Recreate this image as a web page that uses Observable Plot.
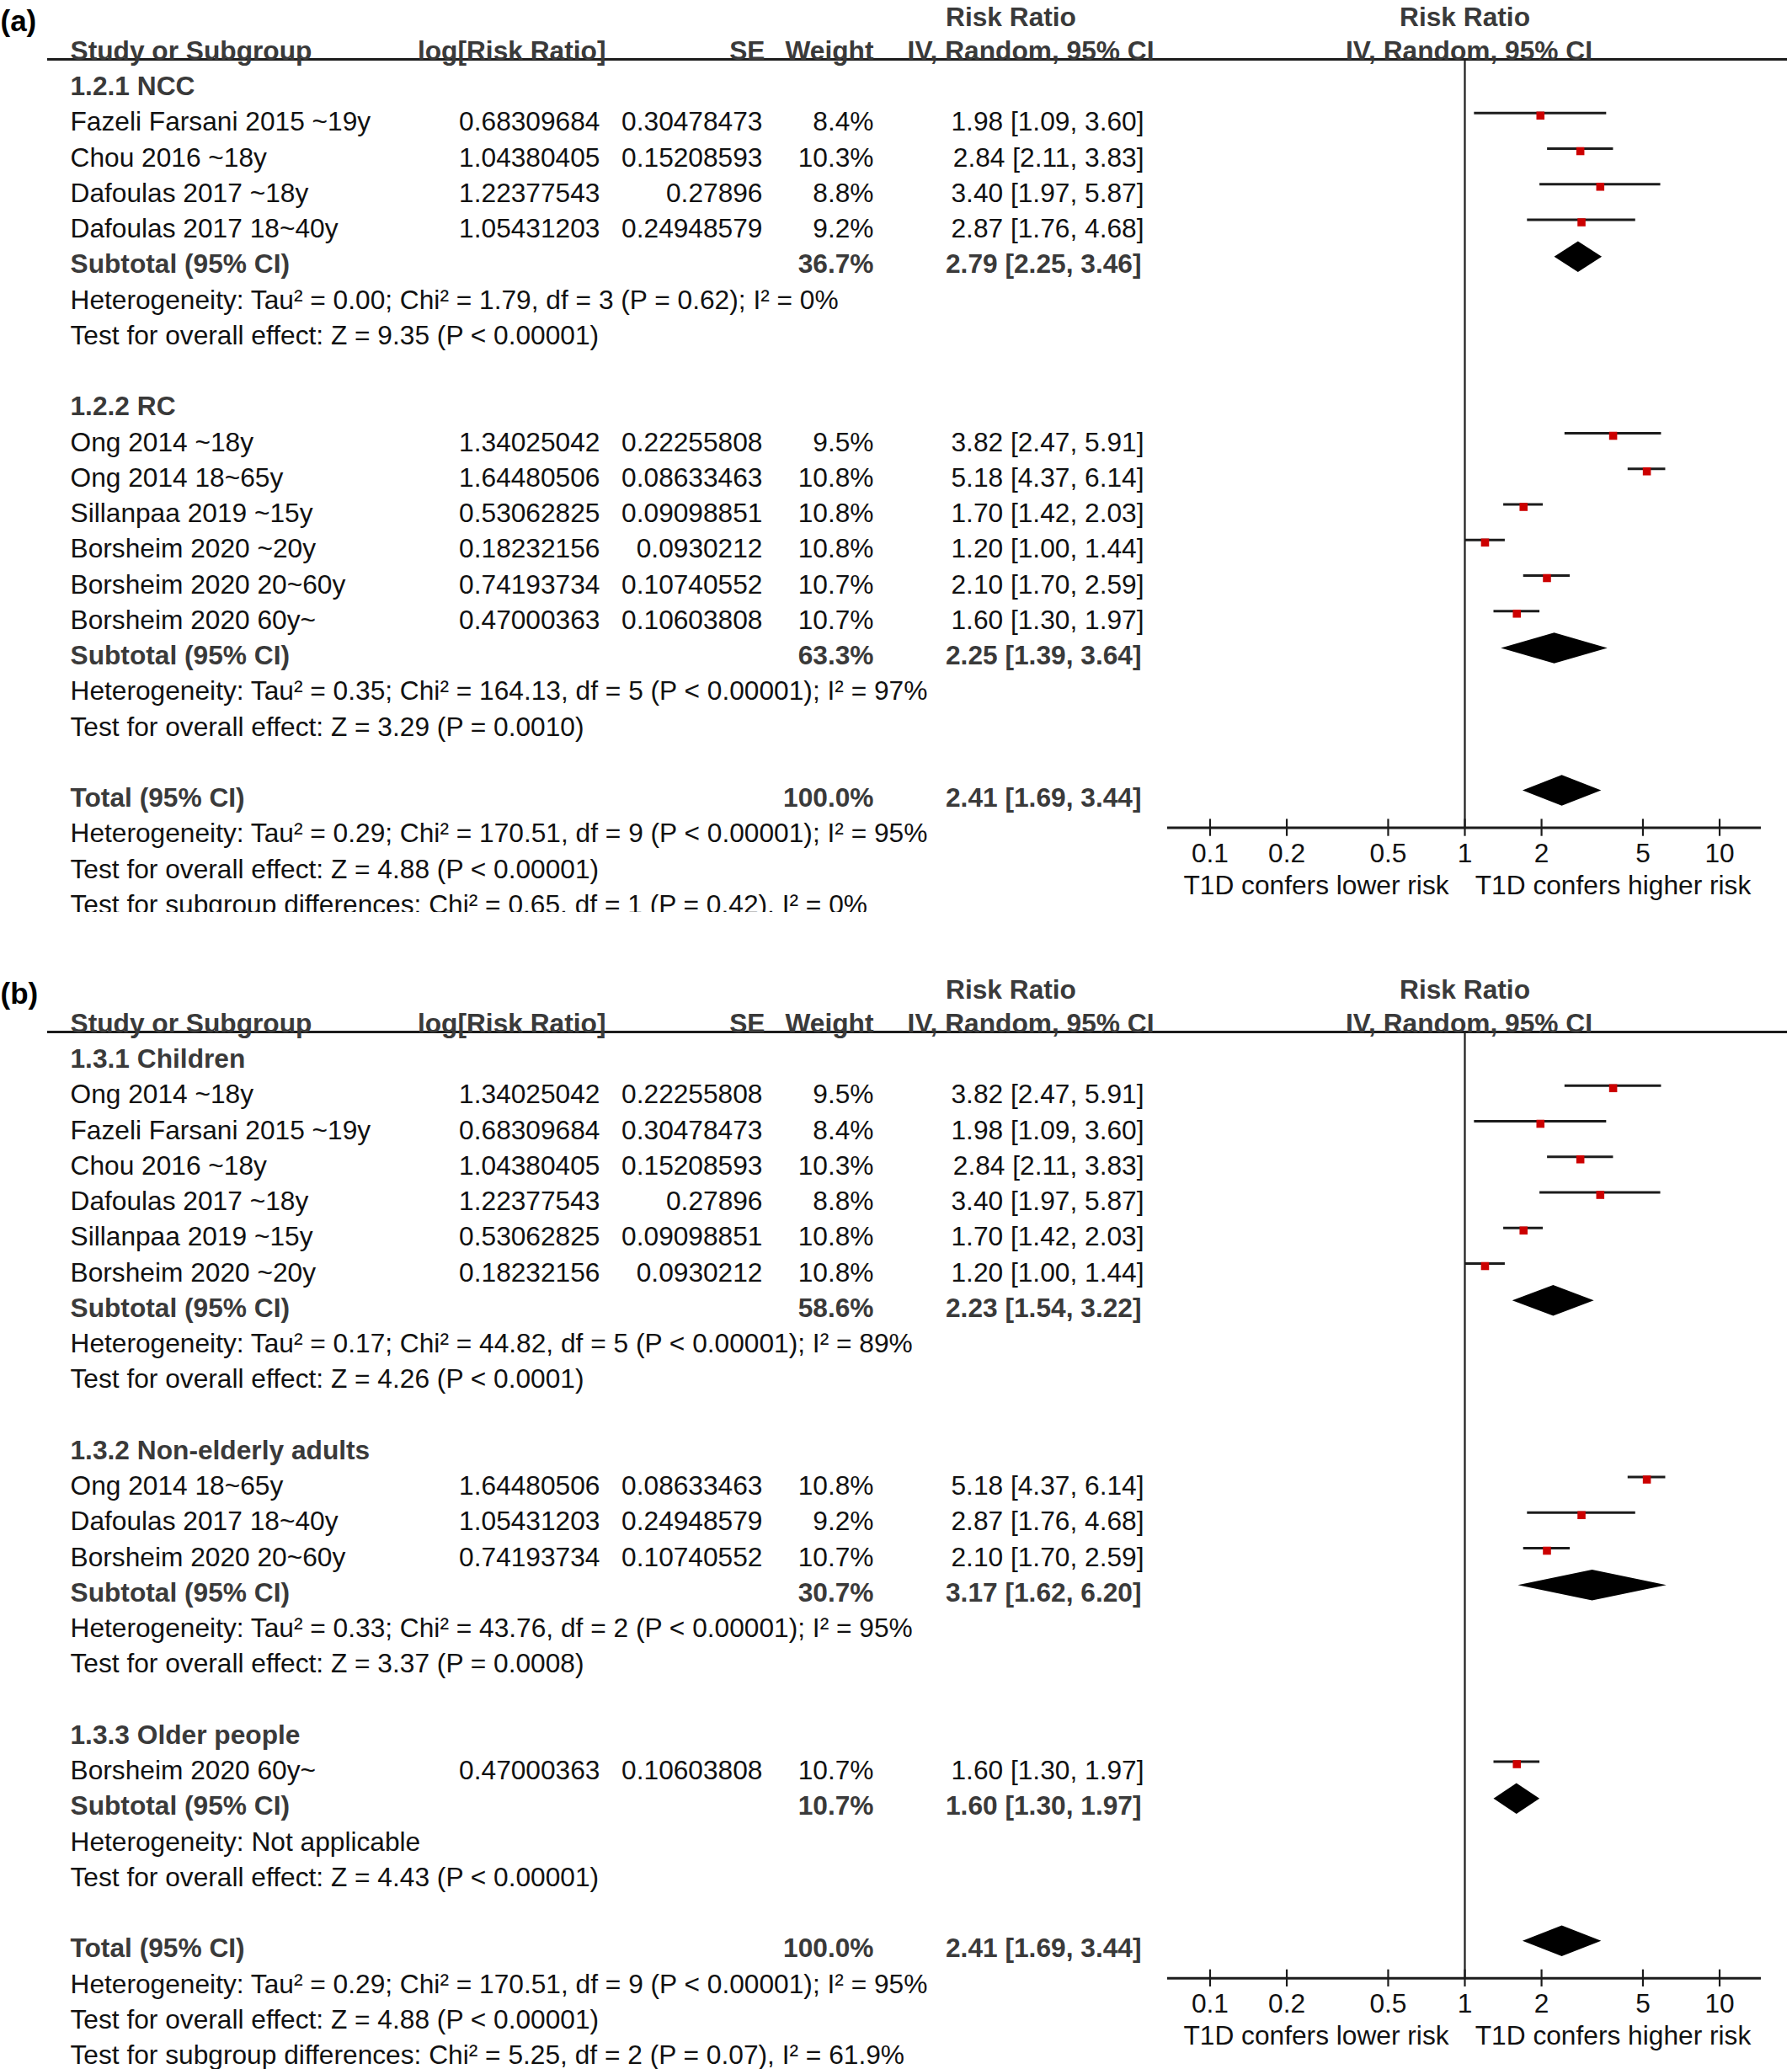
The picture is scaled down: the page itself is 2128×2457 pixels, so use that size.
<!DOCTYPE html>
<html>
<head>
<meta charset="utf-8">
<script src="https://cdn.jsdelivr.net/npm/d3@7"></script>
<script src="https://cdn.jsdelivr.net/npm/@observablehq/plot@0.6"></script>
<style>
  html, body { margin: 0; padding: 0; background: #fff; }
  #page { position: relative; width: 2128px; height: 2457px; overflow: hidden; background: #fff; }
  .panel { position: absolute; left: 0; width: 2128px; overflow: hidden; }
  .panel svg { position: absolute; left: 0; top: 0; }
</style>
</head>
<body>
<div id="page"></div>
<script>
// ---------------- DATA ----------------
const studyLabels = [
  "Fazeli Farsani 2015 ~19y", "Chou 2016 ~18y", "Dafoulas 2017 ~18y", "Dafoulas 2017 18~40y",
  "Ong 2014 ~18y", "Ong 2014 18~65y", "Sillanpaa 2019 ~15y", "Borsheim 2020 ~20y",
  "Borsheim 2020 20~60y", "Borsheim 2020 60y~"
];
const logRiskRatio = ["0.68309684", "1.04380405", "1.22377543", "1.05431203", "1.34025042",
  "1.64480506", "0.53062825", "0.18232156", "0.74193734", "0.47000363"];
const standardError = ["0.30478473", "0.15208593", "0.27896", "0.24948579", "0.22255808",
  "0.08633463", "0.09098851", "0.0930212", "0.10740552", "0.10603808"];
const studyWeight = ["8.4%", "10.3%", "8.8%", "9.2%", "9.5%", "10.8%", "10.8%", "10.8%", "10.7%", "10.7%"];
const riskRatio = [1.98, 2.84, 3.40, 2.87, 3.82, 5.18, 1.70, 1.20, 2.10, 1.60];
const ciLower   = [1.09, 2.11, 1.97, 1.76, 2.47, 4.37, 1.42, 1.00, 1.70, 1.30];
const ciUpper   = [3.60, 3.83, 5.87, 4.68, 5.91, 6.14, 2.03, 1.44, 2.59, 1.97];

// Panel (a) subgroups
const subgroupTitlesA = ["1.2.1 NCC", "1.2.2 RC"];
const subgroupMembersA = [[0, 1, 2, 3], [4, 5, 6, 7, 8, 9]];
const subgroupWeightA = ["36.7%", "63.3%"];
const subgroupRRA = [2.79, 2.25];
const subgroupLowA = [2.25, 1.39];
const subgroupHighA = [3.46, 3.64];
const subgroupHetA = [
  "Heterogeneity: Tau² = 0.00; Chi² = 1.79, df = 3 (P = 0.62); I² = 0%",
  "Heterogeneity: Tau² = 0.35; Chi² = 164.13, df = 5 (P < 0.00001); I² = 97%"
];
const subgroupTestA = [
  "Test for overall effect: Z = 9.35 (P < 0.00001)",
  "Test for overall effect: Z = 3.29 (P = 0.0010)"
];
const subgroupDiffA = "Test for subgroup differences: Chi² = 0.65, df = 1 (P = 0.42), I² = 0%";

// Panel (b) subgroups
const subgroupTitlesB = ["1.3.1 Children", "1.3.2 Non-elderly adults", "1.3.3 Older people"];
const subgroupMembersB = [[4, 0, 1, 2, 6, 7], [5, 3, 8], [9]];
const subgroupWeightB = ["58.6%", "30.7%", "10.7%"];
const subgroupRRB = [2.23, 3.17, 1.60];
const subgroupLowB = [1.54, 1.62, 1.30];
const subgroupHighB = [3.22, 6.20, 1.97];
const subgroupHetB = [
  "Heterogeneity: Tau² = 0.17; Chi² = 44.82, df = 5 (P < 0.00001); I² = 89%",
  "Heterogeneity: Tau² = 0.33; Chi² = 43.76, df = 2 (P < 0.00001); I² = 95%",
  "Heterogeneity: Not applicable"
];
const subgroupTestB = [
  "Test for overall effect: Z = 4.26 (P < 0.0001)",
  "Test for overall effect: Z = 3.37 (P = 0.0008)",
  "Test for overall effect: Z = 4.43 (P < 0.00001)"
];
const subgroupDiffB = "Test for subgroup differences: Chi² = 5.25, df = 2 (P = 0.07), I² = 61.9%";

// Overall
const totalWeight = "100.0%";
const totalRR = 2.41, totalLow = 1.69, totalHigh = 3.44;
const totalHet = "Heterogeneity: Tau² = 0.29; Chi² = 170.51, df = 9 (P < 0.00001); I² = 95%";
const totalTest = "Test for overall effect: Z = 4.88 (P < 0.00001)";

// Axis
const axisTicks = [0.1, 0.2, 0.5, 1, 2, 5, 10];
const axisTickLabels = ["0.1", "0.2", "0.5", "1", "2", "5", "10"];
const directionLabels = ["T1D confers lower risk", "T1D confers higher risk"];
const headerLabels = ["Study or Subgroup", "log[Risk Ratio]", "SE", "Weight", "IV, Random, 95% CI"];
const headerTopLabel = "Risk Ratio";

// ---------------- LAYOUT / STYLE ----------------
const W = 2128;
const FONT = "'Liberation Sans', Arial, Helvetica, sans-serif";
const FS = 31.7;
const TEXT = "#111111", BOLD = "#3a3a3a", LINE = "#1c1c1c", RED = "#cc0000";
const Y0 = 102.5, STEP = 42.25;
const HEADER_RULE_ROW = -0.77;
const AXIS_OFFSET = 0.83;
const X_DOMAIN = [0.0681, 14.57];
const X_RANGE = [1386, 2091];
const DIAMOND_HALF = 0.43;
const bodyCols = [
  {key: "name", x: 83, anchor: "start"},
  {key: "logrr", x: 712, anchor: "end"},
  {key: "se", x: 905, anchor: "end"},
  {key: "weight", x: 1037, anchor: "end"},
  {key: "ci", x: 1358, anchor: "end"}
];
const headerCols = [
  {x: 83, anchor: "start"}, {x: 719, anchor: "end"}, {x: 908, anchor: "end"},
  {x: 1037, anchor: "end"}, {x: 1370, anchor: "end"}
];

const fmtCI = (e, l, h) => `${e.toFixed(2)} [${l.toFixed(2)}, ${h.toFixed(2)}]`;

function buildRows(titles, members, wts, rrs, lows, highs, hets, tests, diff) {
  const rows = [];
  let r = 0;
  titles.forEach((t, g) => {
    rows.push({row: r++, kind: "group", bold: true, name: t});
    for (const i of members[g]) {
      rows.push({row: r++, kind: "study", bold: false, name: studyLabels[i], logrr: logRiskRatio[i],
        se: standardError[i], weight: studyWeight[i], est: riskRatio[i], lo: ciLower[i], hi: ciUpper[i],
        ci: fmtCI(riskRatio[i], ciLower[i], ciUpper[i])});
    }
    rows.push({row: r++, kind: "subtotal", bold: true, name: "Subtotal (95% CI)", weight: wts[g],
      est: rrs[g], lo: lows[g], hi: highs[g], ci: fmtCI(rrs[g], lows[g], highs[g])});
    rows.push({row: r++, kind: "note", bold: false, name: hets[g]});
    rows.push({row: r++, kind: "note", bold: false, name: tests[g]});
    r++;
  });
  const totalRow = r;
  rows.push({row: r++, kind: "total", bold: true, name: "Total (95% CI)", weight: totalWeight,
    est: totalRR, lo: totalLow, hi: totalHigh, ci: fmtCI(totalRR, totalLow, totalHigh)});
  rows.push({row: r++, kind: "note", bold: false, name: totalHet});
  rows.push({row: r++, kind: "note", bold: false, name: totalTest});
  rows.push({row: r++, kind: "note", bold: false, name: diff});
  return {rows, totalRow, nRows: r};
}

function yScale(n) {
  return {domain: [-2, n + 2], range: [Y0 - 2 * STEP, Y0 + (n + 2) * STEP], axis: null};
}
const svgStyle = {background: "transparent", maxWidth: "none", overflow: "visible"};

function tablePlot(data, label, H) {
  const {rows, nRows} = data;
  const marks = [
    Plot.ruleY([HEADER_RULE_ROW], {x1: 56, x2: 2122, stroke: LINE, strokeWidth: 3}),
    Plot.text([label], {x: 0, y: -1.82, text: d => d, textAnchor: "start", fontFamily: FONT,
      fontSize: 35, fontWeight: "bold", fill: "#000"}),
    Plot.text([headerTopLabel], {x: 1200, y: -2, dy: 2, text: d => d, textAnchor: "middle", fontFamily: FONT,
      fontSize: FS, fontWeight: "bold", fill: BOLD})
  ];
  headerLabels.forEach((h, i) => {
    marks.push(Plot.text([h], {x: headerCols[i].x, y: -1, text: d => d, textAnchor: headerCols[i].anchor,
      fontFamily: FONT, fontSize: FS, fontWeight: "bold", fill: BOLD}));
  });
  for (const c of bodyCols) {
    for (const b of [false, true]) {
      const subset = rows.filter(d => d.bold === b && d[c.key] != null);
      marks.push(Plot.text(subset, {x: c.x, y: "row", text: c.key, textAnchor: c.anchor,
        fontFamily: FONT, fontSize: FS, fontWeight: b ? "bold" : "normal", fill: b ? BOLD : TEXT,
        dx: (b && c.key === "ci") ? -3 : 0}));
    }
  }
  return Plot.plot({
    width: W, height: H, margin: 0,
    x: {domain: [0, W], range: [0, W], axis: null},
    y: yScale(nRows),
    style: svgStyle,
    marks
  });
}

function forestPlot(data, H) {
  const {rows, totalRow, nRows} = data;
  const axisRow = totalRow + AXIS_OFFSET;
  const studies = rows.filter(d => d.kind === "study");
  const pooled = rows.filter(d => d.kind === "subtotal" || d.kind === "total");
  const diamondPts = pooled.flatMap(d => [
    {id: d.row, x: d.lo, y1: d.row, y2: d.row},
    {id: d.row, x: d.est, y1: d.row - DIAMOND_HALF, y2: d.row + DIAMOND_HALF},
    {id: d.row, x: d.hi, y1: d.row, y2: d.row}
  ]);
  return Plot.plot({
    width: W, height: H, margin: 0,
    x: {type: "log", domain: X_DOMAIN, range: X_RANGE, axis: null},
    y: yScale(nRows),
    style: svgStyle,
    marks: [
      Plot.text([headerTopLabel], {x: 1, y: -2, dy: 2, text: d => d, textAnchor: "middle", fontFamily: FONT,
        fontSize: FS, fontWeight: "bold", fill: BOLD}),
      Plot.text([headerLabels[4]], {x: 1, y: -1, dx: 5, text: d => d, textAnchor: "middle", fontFamily: FONT,
        fontSize: FS, fontWeight: "bold", fill: BOLD}),
      Plot.ruleX([1], {y1: HEADER_RULE_ROW, y2: axisRow, stroke: LINE, strokeWidth: 2.2}),
      Plot.ruleY([axisRow], {x1: X_DOMAIN[0], x2: X_DOMAIN[1], stroke: LINE, strokeWidth: 3}),
      Plot.ruleX(axisTicks, {x: d => d, y1: axisRow - 0.24, y2: axisRow + 0.24, stroke: LINE, strokeWidth: 2.2}),
      Plot.text(axisTicks, {x: d => d, y: axisRow, dy: 31, text: (d, i) => axisTickLabels[i],
        textAnchor: "middle", fontFamily: FONT, fontSize: FS, fill: TEXT}),
      Plot.text(directionLabels, {x: (d, i) => i === 0 ? Math.sqrt(X_DOMAIN[0]) : Math.sqrt(X_DOMAIN[1]),
        y: axisRow, dy: 69, text: d => d, textAnchor: "middle", fontFamily: FONT, fontSize: FS, fill: TEXT}),
      Plot.ruleY(studies, {y: "row", x1: "lo", x2: "hi", dy: -11, stroke: LINE, strokeWidth: 2.8}),
      Plot.dot(studies, {x: "est", y: "row", dy: -8, symbol: "square", r: 5.4, fill: RED, stroke: "none"}),
      Plot.areaY(diamondPts, {x: "x", y1: "y1", y2: "y2", z: "id", fill: "#000", dy: -9})
    ]
  });
}

const page = document.getElementById("page");
function addPanel(top, clipH, svgH, data, label) {
  const div = document.createElement("div");
  div.className = "panel";
  div.style.top = top + "px";
  div.style.height = clipH + "px";
  div.appendChild(tablePlot(data, label, svgH));
  div.appendChild(forestPlot(data, svgH));
  page.appendChild(div);
}

const dataA = buildRows(subgroupTitlesA, subgroupMembersA, subgroupWeightA, subgroupRRA,
  subgroupLowA, subgroupHighA, subgroupHetA, subgroupTestA, subgroupDiffA);
const dataB = buildRows(subgroupTitlesB, subgroupMembersB, subgroupWeightB, subgroupRRB,
  subgroupLowB, subgroupHighB, subgroupHetB, subgroupTestB, subgroupDiffB);

addPanel(0, 1083, 1160, dataA, "(a)");
addPanel(1155, 2457 - 1155, 1320, dataB, "(b)");
</script>
</body>
</html>
